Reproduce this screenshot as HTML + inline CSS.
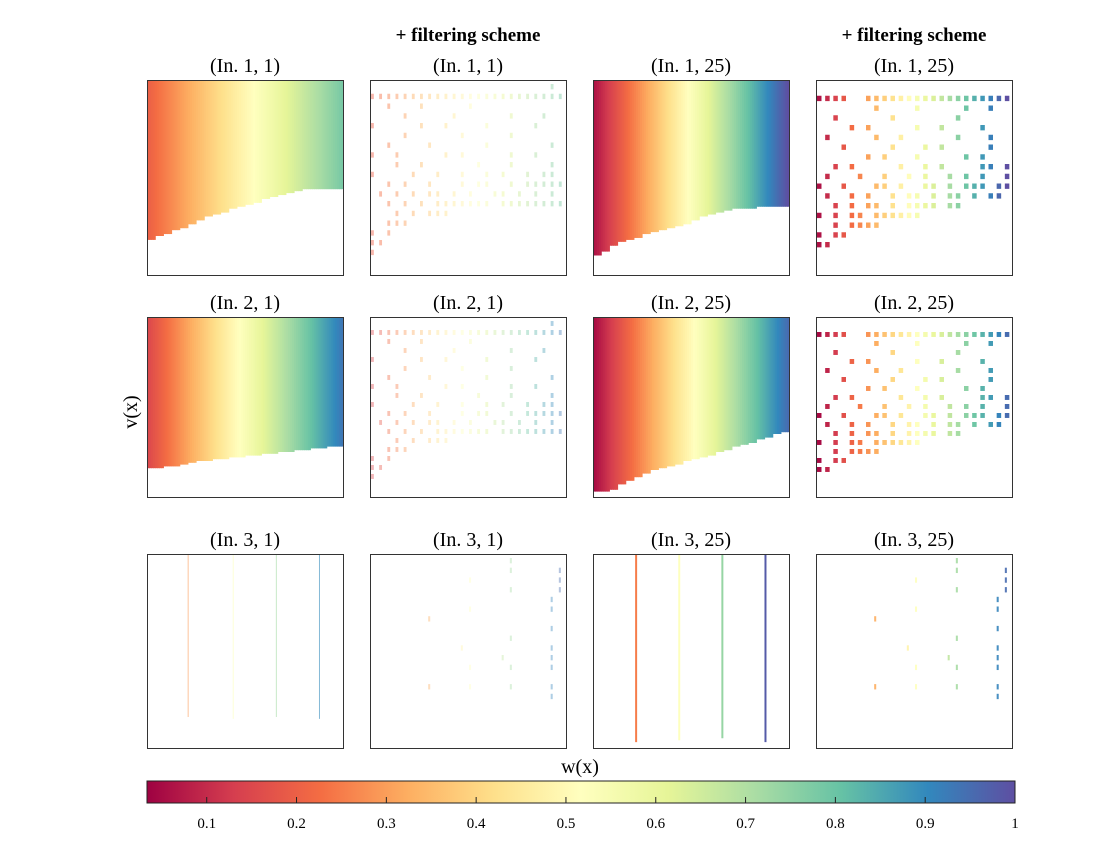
<!DOCTYPE html>
<html><head><meta charset="utf-8">
<style>
body{margin:0;background:#fff;}
svg text{font-family:"Liberation Serif",serif;}
</style></head>
<body>
<svg id="fig" width="1120" height="840" viewBox="0 0 1120 840" xmlns="http://www.w3.org/2000/svg">
<defs>
<linearGradient id="cbg" x1="0" x2="1" y1="0" y2="0">
<stop offset="0" stop-color="#9e0142"/><stop offset="0.1" stop-color="#d53e4f"/><stop offset="0.2" stop-color="#f46d43"/><stop offset="0.3" stop-color="#fdae61"/><stop offset="0.4" stop-color="#fee08b"/><stop offset="0.5" stop-color="#ffffbf"/><stop offset="0.6" stop-color="#e6f598"/><stop offset="0.7" stop-color="#abdda4"/><stop offset="0.8" stop-color="#66c2a5"/><stop offset="0.9" stop-color="#3288bd"/><stop offset="1" stop-color="#5e4fa2"/>
</linearGradient>
</defs>
<g id="panels"></g>
<text x="468" y="41" text-anchor="middle" font-size="19" font-weight="bold">+ filtering scheme</text>
<text x="914" y="41" text-anchor="middle" font-size="19" font-weight="bold">+ filtering scheme</text>
<text transform="translate(137,412) rotate(-90)" text-anchor="middle" font-size="20">v(x)</text>
<text x="580" y="773" text-anchor="middle" font-size="20">w(x)</text>
<rect x="147" y="781" width="868" height="22" fill="url(#cbg)" stroke="#222" stroke-width="1"/>
<g id="cbticks"></g>
</svg>
<script>
const cbTicks=[0.1,0.2,0.3,0.4,0.5,0.6,0.7,0.8,0.9,1];
const cbTickLabels=["0.1","0.2","0.3","0.4","0.5","0.6","0.7","0.8","0.9","1"];
const cbMin=0.0335, cbMax=1;
const titles=["(In. 1, 1)","(In. 1, 1)","(In. 1, 25)","(In. 1, 25)","(In. 2, 1)","(In. 2, 1)","(In. 2, 25)","(In. 2, 25)","(In. 3, 1)","(In. 3, 1)","(In. 3, 25)","(In. 3, 25)"];
const p1W=[0.2,0.78];
const p1Bound=[0.82,0.80,0.79,0.77,0.76,0.74,0.72,0.70,0.69,0.68,0.66,0.65,0.64,0.63,0.61,0.60,0.59,0.58,0.57,0.56,0.56,0.56,0.56,0.56];
const p3W=[0.06,1.0];
const p3Bound=[0.90,0.88,0.85,0.83,0.82,0.81,0.79,0.78,0.77,0.76,0.75,0.74,0.72,0.70,0.69,0.68,0.67,0.66,0.66,0.66,0.65,0.65,0.65,0.65];
const p5W=[0.15,0.93];
const p5Bound=[0.84,0.84,0.83,0.83,0.82,0.81,0.80,0.80,0.79,0.79,0.78,0.78,0.77,0.77,0.76,0.76,0.75,0.75,0.74,0.74,0.73,0.73,0.72,0.72];
const p7W=[0.05,0.95];
const p7Bound=[0.97,0.97,0.96,0.93,0.91,0.89,0.87,0.85,0.84,0.83,0.82,0.80,0.79,0.78,0.77,0.75,0.74,0.72,0.71,0.70,0.68,0.67,0.65,0.64];
const p9X=[0.21,0.44,0.66,0.88], p9W=[0.3,0.52,0.72,0.9], p9D=[0.84,0.85,0.84,0.85];
const p11X=[0.22,0.44,0.66,0.88], p11W=[0.25,0.52,0.74,0.98], p11D=[0.97,0.96,0.95,0.97];
const maskA=["........................","xxxx..xxxxxxxxxxxxxxxxxx",".......x....x.....x..x..","..x......x.......x......","....x.x.....x..x....x...",".x.....x..x......x...x..","...x.....x...x.x.....x..","......x.x...x.....x.x...","..x.x.....x..x.x....xx.x",".x...x..x..x.x..x.x.x..x","x..x...xx.x..xx.x.xxx.xx",".x..x.x..x.xx.x.xx.x.xx.","..x.x.xx.x.xxxx.xx......","x.x.xx.xxxxxx...........","..x.xxxx................","x.xx....................","xx......................"];
const maskB=["......................x.","xxxxxxxxxxxxxxxxxxxxxxxx","..x...x.....x...........","....x.....x......x...x..","x.....x..x....x.....x...","....x......x.....x......","..x....x......x.......x.","x..x.....x.x.....x..x...","...x..x......x...x....x.","x....x..x..x..x.x..x.xx.","..x.x..x...x.xx..x.xxxxx",".x.x.x.xx.x.x..xx.x.x.x.","..x.x.x.xxxxxxx.xxxxxxxx","...x.x.xxx..............","..xxx...................","x.x.....................","xx......................","x......................."];
const maskC=[".................x......",".................x.....x","............x..........x",".................x.....x","......................x.","............x.........x.",".......x................","......................x.",".................x......","...........x..........x.","................x.....x.","............x....x....x.","..........................",".......x....x....x....x.","......................x.","........................"];
const panels=[
 {type:"dense",w:p1W,b:p1Bound,op:1},{type:"sparse",m:maskB,w:p1W,b:p1Bound,op:0.45,dw:0.35},
 {type:"dense",w:p3W,b:p3Bound,op:1},{type:"sparse",m:maskA,w:p3W,b:p3Bound,op:1,dw:0.55},
 {type:"dense",w:p5W,b:p5Bound,op:1},{type:"sparse",m:maskB,w:p5W,b:p5Bound,op:0.4,dw:0.35},
 {type:"dense",w:p7W,b:p7Bound,op:1},{type:"sparse",m:maskA,w:p7W,b:p7Bound,op:1,dw:0.55},
 {type:"lines",x:p9X,w:p9W,d:p9D,sw:1,op:0.6},{type:"sparse",m:maskC,w:[0.05,0.95],b:null,op:0.4,dw:0.25},
 {type:"lines",x:p11X,w:p11W,d:p11D,sw:2,op:1},{type:"sparse",m:maskC,w:[0.05,0.95],b:null,op:0.9,dw:0.25}
];
const colX=[147,370,593,816], rowY=[80,317,554], rowH=[195,180,194], pw=196;
const stops=["#9e0142","#d53e4f","#f46d43","#fdae61","#fee08b","#ffffbf","#e6f598","#abdda4","#66c2a5","#3288bd","#5e4fa2"];
function hex(c){return [1,3,5].map(i=>parseInt(c.substr(i,2),16));}
function cmap(v){let t=(v-cbMin)/(cbMax-cbMin);t=Math.max(0,Math.min(1,t))*10;let i=Math.min(9,Math.floor(t)),f=t-i;const a=hex(stops[i]),b=hex(stops[i+1]);return "rgb("+a.map((x,k)=>Math.round(x+(b[k]-x)*f)).join(",")+")";}
const NS="http://www.w3.org/2000/svg";
function el(t,a,p){const e=document.createElementNS(NS,t);for(const k in a)e.setAttribute(k,a[k]);p.appendChild(e);return e;}
const G=document.getElementById("panels");
panels.forEach((P,idx)=>{
 const r=Math.floor(idx/4),c=idx%4,x0=colX[c],y0=rowY[r],h=rowH[r];
 const g=el("g",{},G);
 
 
 const t=el("text",{x:x0+pw/2,y:y0-8,"text-anchor":"middle","font-size":"20"},g);t.textContent=titles[idx];
 
 
 if(P.type==="dense"){
  const n=P.b.length,cw=pw/n,sub=4;
  P.b.forEach((d,i)=>{for(let s=0;s<sub;s++){const u=(i*sub+s)/(n*sub-1);const w=P.w[0]+(P.w[1]-P.w[0])*u;
   const rc=el("rect",{x:x0+i*cw+s*cw/sub,y:y0,width:cw/sub+0.6,height:d*h,fill:cmap(w),opacity:P.op},g);
   
   }});
 } else if(P.type==="lines"){
  P.x.forEach((xf,i)=>{const ln=el("line",{x1:x0+xf*pw,x2:x0+xf*pw,y1:y0,y2:y0+P.d[i]*h,stroke:cmap(P.w[i]),"stroke-width":P.sw,opacity:P.op},g);
   
   });
 } else {
  const cols=24,rows=20,cw=pw/cols,rh=h/rows;
  P.m.forEach((s,j)=>{for(let i=0;i<s.length&&i<cols;i++){if(s[i]!=="x")continue;
   const w=P.w[0]+(P.w[1]-P.w[0])*i/(cols-1);
   const rc=el("rect",{x:x0+i*cw+1,y:y0+j*rh+(P.m===maskA?6:4),width:cw*P.dw,height:rh*0.55,fill:cmap(w),opacity:P.op},g);
   
   }});
 }
 const fr=el("rect",{x:x0+0.5,y:y0+0.5,width:pw,height:h,fill:"none",stroke:"#333","stroke-width":1},g);
 
 
});
const T=document.getElementById("cbticks");
cbTicks.forEach((v,i)=>{const x=147+(v-cbMin)/(cbMax-cbMin)*868;
 const tk=el("line",{x1:x,x2:x,y1:797,y2:803,stroke:"#222"},T);
 
 
 const tx=el("text",{x:x,y:828,"text-anchor":"middle","font-size":"15"},T);tx.textContent=cbTickLabels[i];
 
 });
</script>
</body></html>
